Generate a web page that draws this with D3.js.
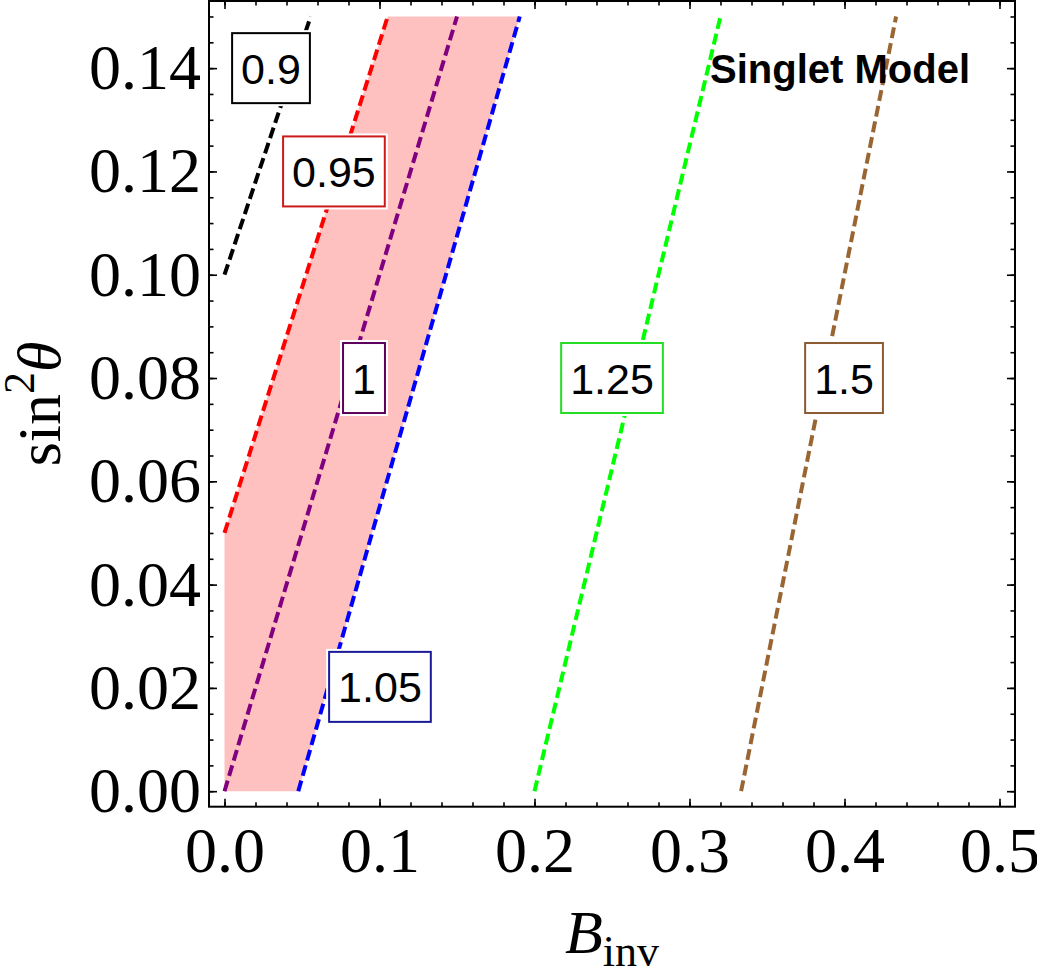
<!DOCTYPE html>
<html>
<head>
<meta charset="utf-8">
<script src="https://cdn.jsdelivr.net/npm/d3@7"></script>
<style>
  body { margin: 0; background: #fff; }
  svg { display: block; }
</style>
</head>
<body>
<div id="chart"></div>
<script>
(function () {
"use strict";

// contour levels, each read as a straight segment (B_inv, sin^2 theta)
var levels = ["0.9", "0.95", "1", "1.05", "1.25", "1.5"],
    startB = [0.000, 0.000, 0.000, 0.0476, 0.200, 0.3333],
    startS = [0.100, 0.050, 0.000, 0.000, 0.000, 0.000],
    endB   = [0.0556, 0.1053, 0.150, 0.1905, 0.320, 0.4333],
    endS   = [0.150, 0.150, 0.150, 0.150, 0.150, 0.150];

// where the level labels sit
var labelB = [0.030, 0.0706, 0.090, 0.1003, 0.250, 0.3997],
    labelS = [0.140, 0.120, 0.080, 0.0202, 0.080, 0.080];

// shaded band between 0.95 and 1.05
var bandB = [0.000, 0.0476, 0.1905, 0.1053, 0.000],
    bandS = [0.000, 0.000, 0.150, 0.150, 0.050];

var xTicks = [0, 0.1, 0.2, 0.3, 0.4, 0.5],
    yTicks = [0, 0.02, 0.04, 0.06, 0.08, 0.10, 0.12, 0.14];

var lineColor = ["#000000", "#ff0000", "#800080", "#0000ff", "#00ff00", "#996633"],
    boxColor  = ["#000000", "#cc1a1a", "#5c005c", "#1a1a99", "#22dd22", "#8b5a30"];

var width = 1037,
    height = 966,
    left = 209, right = 1015, top = 1, bottom = 806.7;

var x = d3.scaleLinear().domain([-0.01, 0.51]).range([left, right]);
var y = d3.scaleLinear().domain([-0.003, 0.153]).range([bottom, top]);

var svg = d3.select("#chart").append("svg")
    .attr("width", width)
    .attr("height", height);

// band
var bandPts = bandB.map(function (b, i) { return [b, bandS[i]]; });
svg.append("path")
    .attr("d", d3.line()
        .x(function (d) { return x(d[0]); })
        .y(function (d) { return y(d[1]); })
        .curve(d3.curveLinearClosed)(bandPts))
    .attr("fill", "#ffc0c0")
    .attr("stroke", "none");

// contour lines
svg.append("g").selectAll("line")
    .data(levels)
    .enter().append("line")
    .attr("x1", function (d, i) { return x(startB[i]); })
    .attr("y1", function (d, i) { return y(startS[i]); })
    .attr("x2", function (d, i) { return x(endB[i]); })
    .attr("y2", function (d, i) { return y(endS[i]); })
    .attr("stroke", function (d, i) { return lineColor[i]; })
    .attr("stroke-width", 4)
    .attr("stroke-dasharray", "11,5");

// labels
var lab = svg.append("g").selectAll("g")
    .data(levels)
    .enter().append("g")
    .attr("transform", function (d, i) {
        return "translate(" + x(labelB[i]) + "," + y(labelS[i]) + ")";
    });

var labText = lab.append("text")
    .attr("text-anchor", "middle")
    .attr("dy", "0.36em")
    .attr("font-family", "Liberation Sans, Arial, sans-serif")
    .attr("font-size", 43)
    .attr("fill", "#000")
    .text(function (d) { return d; });

labText.each(function (d, i) {
    var w = this.getBBox().width + 18,
        h = 70,
        g = d3.select(this.parentNode);
    g.insert("rect", "text")
        .attr("x", -w / 2 - 3).attr("y", -h / 2 - 3)
        .attr("width", w + 6).attr("height", h + 6)
        .attr("fill", "#fff");
    g.insert("rect", "text")
        .attr("x", -w / 2).attr("y", -h / 2)
        .attr("width", w).attr("height", h)
        .attr("fill", "#fff")
        .attr("stroke", boxColor[i])
        .attr("stroke-width", 2);
});

svg.append("text")
    .attr("x", 710)
    .attr("y", 83)
    .attr("font-family", "Liberation Sans, Arial, sans-serif")
    .attr("font-weight", "bold")
    .attr("font-size", 40)
    .attr("fill", "#000")
    .text("Singlet Model");

// frame + ticks
var tickFont = "Liberation Serif, Times New Roman, serif",
    xMinor = d3.range(0, 0.5001, 0.02),
    yMinor = d3.range(0, 0.1501, 0.005);

function styleAxis(g) {
    g.select(".domain").remove();
    g.selectAll(".tick line").attr("stroke", "#000").attr("stroke-width", 1.6);
    g.selectAll("text")
        .attr("font-family", tickFont)
        .attr("font-size", 64)
        .attr("fill", "#000");
}

svg.append("g")
    .attr("transform", "translate(0," + bottom + ")")
    .call(d3.axisBottom(x).tickValues(xMinor).tickSize(-4.5).tickFormat(""))
    .call(styleAxis);
svg.append("g")
    .attr("transform", "translate(0," + bottom + ")")
    .call(d3.axisBottom(x).tickValues(xTicks).tickSize(-8).tickPadding(20).tickFormat(d3.format(".1f")))
    .call(styleAxis)
    .selectAll("text").attr("dy", "0.71em");
svg.append("g")
    .attr("transform", "translate(0," + top + ")")
    .call(d3.axisTop(x).tickValues(xMinor).tickSize(-4.5).tickFormat(""))
    .call(styleAxis);
svg.append("g")
    .attr("transform", "translate(0," + top + ")")
    .call(d3.axisTop(x).tickValues(xTicks).tickSize(-8).tickFormat(""))
    .call(styleAxis);

svg.append("g")
    .attr("transform", "translate(" + left + ",0)")
    .call(d3.axisLeft(y).tickValues(yMinor).tickSize(-4.5).tickFormat(""))
    .call(styleAxis);
svg.append("g")
    .attr("transform", "translate(" + left + ",0)")
    .call(d3.axisLeft(y).tickValues(yTicks).tickSize(-8).tickPadding(8).tickFormat(d3.format(".2f")))
    .call(styleAxis);
svg.append("g")
    .attr("transform", "translate(" + right + ",0)")
    .call(d3.axisRight(y).tickValues(yMinor).tickSize(-4.5).tickFormat(""))
    .call(styleAxis);
svg.append("g")
    .attr("transform", "translate(" + right + ",0)")
    .call(d3.axisRight(y).tickValues(yTicks).tickSize(-8).tickFormat(""))
    .call(styleAxis);

svg.append("rect")
    .attr("x", left).attr("y", top)
    .attr("width", right - left).attr("height", bottom - top)
    .attr("fill", "none")
    .attr("stroke", "#000")
    .attr("stroke-width", 2);

// axis titles
var xt = svg.append("text")
    .attr("x", (left + right) / 2)
    .attr("y", 953)
    .attr("text-anchor", "middle")
    .attr("font-family", tickFont)
    .attr("font-size", 62)
    .attr("fill", "#000");
xt.append("tspan").attr("font-style", "italic").text("B");
xt.append("tspan").attr("font-size", 44).attr("dy", 13).text("inv");

var yt = svg.append("text")
    .attr("transform", "translate(60," + (top + bottom) / 2 + ") rotate(-90)")
    .attr("text-anchor", "middle")
    .attr("font-family", tickFont)
    .attr("font-size", 62)
    .attr("fill", "#000");
yt.append("tspan").text("sin");
yt.append("tspan").attr("font-size", 44).attr("dy", -26).text("2");
yt.append("tspan").attr("font-style", "italic").attr("dy", 26).text("θ");

})();
</script>
</body>
</html>
